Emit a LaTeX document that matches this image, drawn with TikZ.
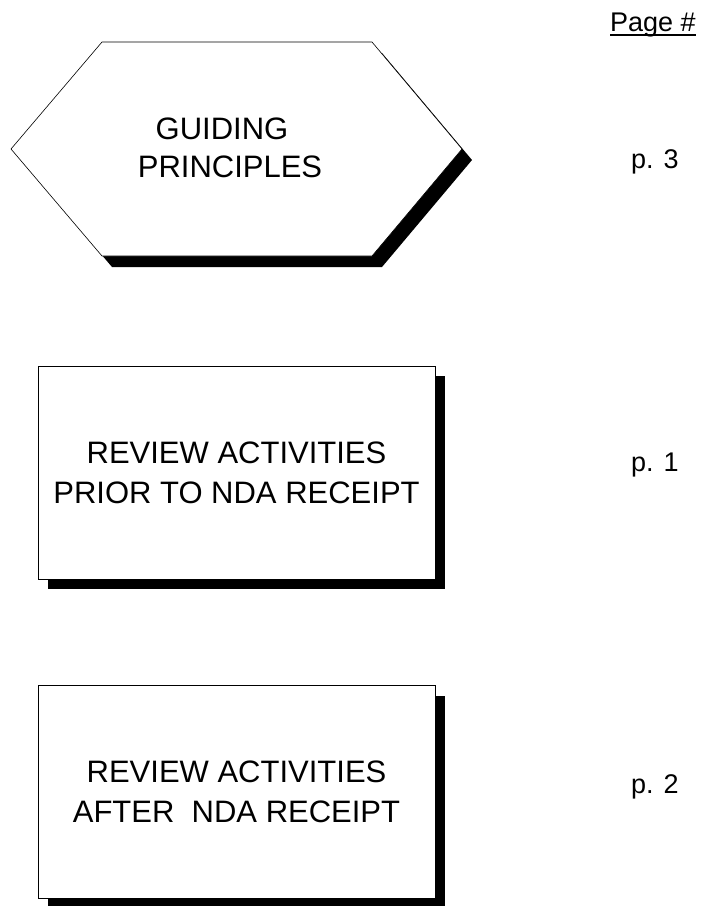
\documentclass[tikz,border=0pt]{standalone}
\usepackage{fontspec}
\setmainfont{Liberation Sans}
\usetikzlibrary{shadows}

\begin{document}
\begin{tikzpicture}[
    x=1pt, y=-1pt,
    every node/.style={inner sep=0pt},
    title/.style={align=center, font=\fontsize{31}{40}\selectfont},
    pageref/.style={anchor=base, font=\fontsize{27}{32}\selectfont},
    stepbox/.style={draw=black, line width=1pt, fill=white,
        minimum width=397pt, minimum height=213pt,
        drop shadow={shadow xshift=10pt, shadow yshift=-10pt, fill=black, opacity=1}},
]
\useasboundingbox (0,0) rectangle (704,906);

% the hexagon with its shadow
\def\hexpath{(11,149) -- (102,42) -- (372,42) -- (462,149) -- (372,256) -- (102,256) -- cycle}
\fill[black, shift={(10,11)}] \hexpath;
\filldraw[fill=white, draw=black, line width=0.6pt] \hexpath;
\node[title] (guiding) at (230,147.5) {GUIDING\hspace*{16pt}\\[-2pt]PRINCIPLES};

% the two boxes
\node[stepbox, title] (prior) at (236.5,472.5) {REVIEW ACTIVITIES\\PRIOR TO NDA RECEIPT};
\node[stepbox, title] (after) at (236.5,792) {REVIEW ACTIVITIES\\AFTER\ \ NDA RECEIPT};

% page column
\node[pageref, anchor=base west] (pagehdr) at (610,31) {Page \#};
\draw[line width=1.3pt] ([yshift=-4pt]pagehdr.base west) -- ([yshift=-4pt]pagehdr.base east);
\node[pageref] (pguiding) at (655,168) {p. 3};
\node[pageref] (pprior) at (655,471) {p. 1};
\node[pageref] (pafter) at (655,793) {p. 2};
\end{tikzpicture}
\end{document}
